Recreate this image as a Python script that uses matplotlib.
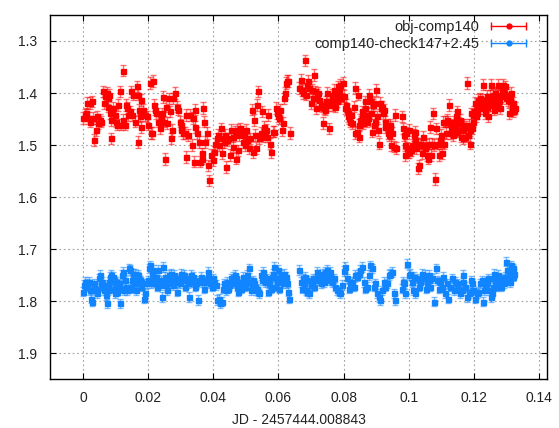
import matplotlib
matplotlib.use("Agg")
import matplotlib.pyplot as plt
from matplotlib.lines import Line2D
from matplotlib.legend_handler import HandlerLine2D, HandlerTuple

# obj-comp140
red_jd = [
    0.0000, 0.0005, 0.0010, 0.0012, 0.0015, 0.0020, 0.0021, 0.0026, 0.0031, 0.0034,
    0.0038, 0.0041, 0.0046, 0.0051, 0.0056, 0.0061, 0.0065, 0.0067, 0.0072, 0.0075,
    0.0077, 0.0079, 0.0082, 0.0085, 0.0087, 0.0089, 0.0092, 0.0097, 0.0102, 0.0105,
    0.0108, 0.0113, 0.0115, 0.0121, 0.0123, 0.0128, 0.0133, 0.0136, 0.0138, 0.0143,
    0.0148, 0.0151, 0.0154, 0.0159, 0.0164, 0.0167, 0.0169, 0.0172, 0.0174, 0.0177,
    0.0179, 0.0184, 0.0189, 0.0195, 0.0200, 0.0205, 0.0208, 0.0212, 0.0215, 0.0218,
    0.0222, 0.0225, 0.0230, 0.0236, 0.0239, 0.0243, 0.0246, 0.0249, 0.0251, 0.0256,
    0.0259, 0.0263, 0.0266, 0.0271, 0.0273, 0.0276, 0.0282, 0.0287, 0.0292, 0.0297,
    0.0300, 0.0302, 0.0307, 0.0312, 0.0315, 0.0317, 0.0323, 0.0328, 0.0333, 0.0338,
    0.0341, 0.0343, 0.0345, 0.0351, 0.0355, 0.0358, 0.0364, 0.0366, 0.0369, 0.0372,
    0.0374, 0.0379, 0.0385, 0.0388, 0.0392, 0.0398, 0.0402, 0.0405, 0.0410, 0.0415,
    0.0418, 0.0422, 0.0426, 0.0429, 0.0433, 0.0436, 0.0439, 0.0441, 0.0446, 0.0451,
    0.0454, 0.0459, 0.0461, 0.0467, 0.0470, 0.0472, 0.0477, 0.0480, 0.0482, 0.0487,
    0.0490, 0.0494, 0.0497, 0.0500, 0.0504, 0.0511, 0.0513, 0.0518, 0.0521, 0.0525,
    0.0528, 0.0531, 0.0533, 0.0538, 0.0541, 0.0545, 0.0548, 0.0552, 0.0556, 0.0559,
    0.0562, 0.0566, 0.0569, 0.0574, 0.0577, 0.0582, 0.0586, 0.0593, 0.0597, 0.0600,
    0.0603, 0.0605, 0.0610, 0.0613, 0.0617, 0.0620, 0.0623, 0.0627, 0.0630, 0.0635,
    0.0664, 0.0668, 0.0671, 0.0676, 0.0682, 0.0685, 0.0689, 0.0692, 0.0695, 0.0699,
    0.0702, 0.0705, 0.0709, 0.0712, 0.0715, 0.0719, 0.0723, 0.0726, 0.0730, 0.0733,
    0.0736, 0.0740, 0.0743, 0.0746, 0.0750, 0.0753, 0.0756, 0.0759, 0.0764, 0.0766,
    0.0769, 0.0772, 0.0774, 0.0779, 0.0782, 0.0784, 0.0787, 0.0790, 0.0793, 0.0797,
    0.0800, 0.0803, 0.0807, 0.0810, 0.0813, 0.0815, 0.0817, 0.0820, 0.0824, 0.0826,
    0.0831, 0.0834, 0.0836, 0.0841, 0.0844, 0.0846, 0.0848, 0.0851, 0.0854, 0.0856,
    0.0858, 0.0861, 0.0865, 0.0867, 0.0869, 0.0872, 0.0875, 0.0879, 0.0882, 0.0885,
    0.0887, 0.0889, 0.0892, 0.0895, 0.0898, 0.0901, 0.0903, 0.0906, 0.0910, 0.0913,
    0.0916, 0.0918, 0.0920, 0.0923, 0.0926, 0.0928, 0.0934, 0.0937, 0.0939, 0.0942,
    0.0944, 0.0947, 0.0949, 0.0954, 0.0957, 0.0961, 0.0980, 0.0982, 0.0985, 0.0988,
    0.0990, 0.0993, 0.0995, 0.0998, 0.1000, 0.1002, 0.1005, 0.1008, 0.1010, 0.1015,
    0.1018, 0.1020, 0.1022, 0.1025, 0.1028, 0.1033, 0.1036, 0.1039, 0.1041, 0.1044,
    0.1049, 0.1053, 0.1056, 0.1059, 0.1063, 0.1066, 0.1070, 0.1072, 0.1074, 0.1077,
    0.1080, 0.1084, 0.1089, 0.1092, 0.1095, 0.1099, 0.1102, 0.1105, 0.1109, 0.1112,
    0.1115, 0.1119, 0.1122, 0.1125, 0.1127, 0.1129, 0.1133, 0.1136, 0.1138, 0.1140,
    0.1143, 0.1146, 0.1148, 0.1150, 0.1153, 0.1156, 0.1158, 0.1160, 0.1163, 0.1166,
    0.1168, 0.1170, 0.1174, 0.1177, 0.1179, 0.1181, 0.1184, 0.1187, 0.1189, 0.1191,
    0.1194, 0.1197, 0.1199, 0.1201, 0.1204, 0.1207, 0.1209, 0.1211, 0.1214, 0.1218,
    0.1220, 0.1222, 0.1225, 0.1228, 0.1230, 0.1232, 0.1235, 0.1238, 0.1240, 0.1242,
    0.1245, 0.1248, 0.1250, 0.1252, 0.1255, 0.1259, 0.1261, 0.1263, 0.1266, 0.1269,
    0.1271, 0.1273, 0.1276, 0.1279, 0.1281, 0.1283, 0.1286, 0.1289, 0.1291, 0.1293,
    0.1296, 0.1299, 0.1301, 0.1304, 0.1307, 0.1310, 0.1312, 0.1314, 0.1317, 0.1320,
    0.1322, 0.1324, 0.1327,
]
red_mag = [
    1.448, 1.442, 1.439, 1.419, 1.448, 1.455, 1.419, 1.416, 1.448, 1.490,
    1.471, 1.445, 1.458, 1.452, 1.455, 1.397, 1.419, 1.406, 1.400, 1.426,
    1.410, 1.403, 1.439, 1.487, 1.452, 1.435, 1.429, 1.442, 1.455, 1.461,
    1.423, 1.397, 1.461, 1.357, 1.452, 1.461, 1.423, 1.429, 1.442, 1.435,
    1.397, 1.442, 1.403, 1.455, 1.387, 1.403, 1.494, 1.432, 1.445, 1.465,
    1.413, 1.432, 1.442, 1.445, 1.461, 1.381, 1.477, 1.477, 1.377, 1.423,
    1.432, 1.439, 1.455, 1.468, 1.448, 1.439, 1.408, 1.455, 1.527, 1.426,
    1.458, 1.410, 1.435, 1.487, 1.471, 1.410, 1.400, 1.426, 1.432, 1.455,
    1.471, 1.461, 1.477, 1.477, 1.442, 1.523, 1.481, 1.442, 1.500, 1.448,
    1.532, 1.432, 1.465, 1.477, 1.494, 1.532, 1.516, 1.526, 1.429, 1.455,
    1.494, 1.477, 1.539, 1.568, 1.519, 1.529, 1.513, 1.497, 1.487, 1.481,
    1.500, 1.468, 1.516, 1.487, 1.494, 1.481, 1.542, 1.490, 1.487, 1.519,
    1.471, 1.503, 1.484, 1.474, 1.526, 1.471, 1.510, 1.481, 1.468, 1.474,
    1.494, 1.481, 1.500, 1.471, 1.490, 1.506, 1.487, 1.432, 1.513, 1.452,
    1.481, 1.506, 1.423, 1.397, 1.487, 1.477, 1.435, 1.484, 1.465, 1.474,
    1.471, 1.484, 1.442, 1.497, 1.513, 1.474, 1.474, 1.429, 1.439, 1.445,
    1.448, 1.432, 1.471, 1.458, 1.410, 1.400, 1.381, 1.377, 1.377, 1.477,
    1.390, 1.374, 1.394, 1.400, 1.337, 1.403, 1.384, 1.377, 1.390, 1.419,
    1.394, 1.410, 1.365, 1.397, 1.429, 1.403, 1.400, 1.413, 1.423, 1.426,
    1.458, 1.429, 1.432, 1.416, 1.400, 1.423, 1.468, 1.416, 1.403, 1.423,
    1.413, 1.394, 1.426, 1.416, 1.403, 1.387, 1.394, 1.384, 1.410, 1.381,
    1.406, 1.429, 1.423, 1.432, 1.445, 1.439, 1.448, 1.455, 1.442, 1.458,
    1.426, 1.390, 1.477, 1.474, 1.403, 1.461, 1.484, 1.452, 1.455, 1.445,
    1.435, 1.458, 1.416, 1.429, 1.442, 1.455, 1.448, 1.403, 1.416, 1.439,
    1.474, 1.423, 1.419, 1.461, 1.455, 1.394, 1.445, 1.471, 1.497, 1.419,
    1.429, 1.426, 1.439, 1.432, 1.455, 1.465, 1.461, 1.477, 1.481, 1.465,
    1.461, 1.500, 1.477, 1.503, 1.442, 1.506, 1.445, 1.468, 1.481, 1.500,
    1.519, 1.477, 1.506, 1.513, 1.471, 1.513, 1.510, 1.510, 1.500, 1.481,
    1.474, 1.490, 1.506, 1.497, 1.545, 1.539, 1.497, 1.500, 1.516, 1.484,
    1.506, 1.500, 1.519, 1.526, 1.497, 1.465, 1.519, 1.497, 1.439, 1.500,
    1.565, 1.468, 1.497, 1.519, 1.490, 1.481, 1.516, 1.455, 1.497, 1.455,
    1.477, 1.452, 1.455, 1.423, 1.477, 1.465, 1.461, 1.481, 1.471, 1.455,
    1.468, 1.445, 1.474, 1.435, 1.458, 1.471, 1.452, 1.484, 1.461, 1.471,
    1.487, 1.461, 1.484, 1.465, 1.381, 1.481, 1.461, 1.497, 1.471, 1.439,
    1.468, 1.455, 1.442, 1.435, 1.419, 1.445, 1.426, 1.439, 1.413, 1.429,
    1.410, 1.423, 1.413, 1.384, 1.419, 1.429, 1.439, 1.413, 1.406, 1.426,
    1.445, 1.416, 1.406, 1.384, 1.423, 1.403, 1.432, 1.413, 1.400, 1.419,
    1.403, 1.423, 1.384, 1.416, 1.429, 1.406, 1.394, 1.397, 1.384, 1.400,
    1.387, 1.410, 1.403, 1.413, 1.439, 1.416, 1.410, 1.400, 1.426, 1.419,
    1.435, 1.432, 1.429,
]

# comp140-check147+2.45
blue_jd = [
    0.0000, 0.0003, 0.0007, 0.0010, 0.0013, 0.0017, 0.0020, 0.0024, 0.0026, 0.0031,
    0.0034, 0.0038, 0.0041, 0.0044, 0.0048, 0.0051, 0.0054, 0.0058, 0.0061, 0.0065,
    0.0069, 0.0072, 0.0075, 0.0077, 0.0079, 0.0082, 0.0085, 0.0087, 0.0092, 0.0095,
    0.0097, 0.0099, 0.0102, 0.0105, 0.0110, 0.0113, 0.0116, 0.0120, 0.0123, 0.0126,
    0.0128, 0.0133, 0.0136, 0.0140, 0.0143, 0.0146, 0.0148, 0.0151, 0.0154, 0.0157,
    0.0159, 0.0161, 0.0164, 0.0167, 0.0169, 0.0171, 0.0174, 0.0177, 0.0179, 0.0184,
    0.0187, 0.0189, 0.0195, 0.0198, 0.0202, 0.0205, 0.0208, 0.0212, 0.0215, 0.0218,
    0.0222, 0.0225, 0.0228, 0.0230, 0.0236, 0.0239, 0.0243, 0.0246, 0.0249, 0.0251,
    0.0253, 0.0256, 0.0259, 0.0263, 0.0266, 0.0269, 0.0271, 0.0273, 0.0276, 0.0280,
    0.0282, 0.0287, 0.0290, 0.0294, 0.0297, 0.0300, 0.0304, 0.0307, 0.0310, 0.0314,
    0.0317, 0.0321, 0.0325, 0.0328, 0.0331, 0.0335, 0.0338, 0.0341, 0.0343, 0.0348,
    0.0353, 0.0355, 0.0361, 0.0366, 0.0369, 0.0372, 0.0377, 0.0382, 0.0385, 0.0390,
    0.0395, 0.0398, 0.0402, 0.0408, 0.0412, 0.0416, 0.0420, 0.0426, 0.0429, 0.0433,
    0.0436, 0.0439, 0.0443, 0.0446, 0.0449, 0.0453, 0.0456, 0.0459, 0.0463, 0.0467,
    0.0470, 0.0474, 0.0477, 0.0480, 0.0484, 0.0487, 0.0490, 0.0494, 0.0497, 0.0500,
    0.0504, 0.0511, 0.0513, 0.0515, 0.0518, 0.0521, 0.0525, 0.0528, 0.0531, 0.0535,
    0.0538, 0.0541, 0.0545, 0.0548, 0.0552, 0.0556, 0.0559, 0.0564, 0.0569, 0.0572,
    0.0576, 0.0579, 0.0584, 0.0586, 0.0589, 0.0593, 0.0597, 0.0600, 0.0603, 0.0607,
    0.0610, 0.0613, 0.0617, 0.0620, 0.0623, 0.0627, 0.0630, 0.0633, 0.0664, 0.0668,
    0.0671, 0.0674, 0.0678, 0.0682, 0.0685, 0.0689, 0.0692, 0.0695, 0.0699, 0.0702,
    0.0705, 0.0709, 0.0712, 0.0717, 0.0719, 0.0723, 0.0726, 0.0730, 0.0733, 0.0736,
    0.0740, 0.0743, 0.0746, 0.0750, 0.0753, 0.0756, 0.0759, 0.0764, 0.0770, 0.0775,
    0.0780, 0.0785, 0.0790, 0.0795, 0.0800, 0.0805, 0.0811, 0.0816, 0.0821, 0.0826,
    0.0831, 0.0836, 0.0841, 0.0846, 0.0852, 0.0857, 0.0862, 0.0867, 0.0872, 0.0877,
    0.0882, 0.0887, 0.0892, 0.0898, 0.0903, 0.0908, 0.0913, 0.0918, 0.0923, 0.0928,
    0.0933, 0.0939, 0.0944, 0.0949, 0.0954, 0.0959, 0.0980, 0.0982, 0.0985, 0.0990,
    0.0995, 0.1000, 0.1005, 0.1010, 0.1012, 0.1015, 0.1020, 0.1026, 0.1031, 0.1033,
    0.1036, 0.1041, 0.1046, 0.1051, 0.1053, 0.1056, 0.1061, 0.1063, 0.1067, 0.1072,
    0.1077, 0.1084, 0.1086, 0.1092, 0.1097, 0.1102, 0.1107, 0.1112, 0.1117, 0.1122,
    0.1127, 0.1133, 0.1138, 0.1143, 0.1148, 0.1153, 0.1158, 0.1163, 0.1166, 0.1168,
    0.1174, 0.1179, 0.1184, 0.1187, 0.1191, 0.1194, 0.1199, 0.1204, 0.1209, 0.1214,
    0.1220, 0.1225, 0.1228, 0.1230, 0.1235, 0.1238, 0.1242, 0.1245, 0.1248, 0.1252,
    0.1255, 0.1259, 0.1261, 0.1263, 0.1266, 0.1269, 0.1271, 0.1276, 0.1279, 0.1283,
    0.1286, 0.1289, 0.1293, 0.1296, 0.1299, 0.1301, 0.1304, 0.1307, 0.1310, 0.1312,
    0.1314, 0.1317, 0.1320, 0.1322, 0.1324,
]
blue_mag = [
    1.782, 1.769, 1.763, 1.772, 1.766, 1.763, 1.779, 1.795, 1.801, 1.776,
    1.766, 1.779, 1.776, 1.785, 1.756, 1.750, 1.766, 1.763, 1.772, 1.779,
    1.788, 1.804, 1.779, 1.769, 1.763, 1.753, 1.776, 1.750, 1.753, 1.760,
    1.772, 1.785, 1.763, 1.782, 1.766, 1.804, 1.776, 1.750, 1.744, 1.779,
    1.760, 1.772, 1.779, 1.737, 1.740, 1.776, 1.772, 1.760, 1.747, 1.763,
    1.747, 1.779, 1.766, 1.753, 1.750, 1.766, 1.760, 1.763, 1.772, 1.766,
    1.795, 1.785, 1.766, 1.760, 1.737, 1.731, 1.766, 1.747, 1.740, 1.760,
    1.763, 1.753, 1.772, 1.740, 1.769, 1.760, 1.792, 1.734, 1.766, 1.753,
    1.769, 1.760, 1.779, 1.750, 1.760, 1.747, 1.766, 1.756, 1.769, 1.750,
    1.763, 1.782, 1.760, 1.756, 1.766, 1.747, 1.760, 1.753, 1.750, 1.772,
    1.756, 1.766, 1.792, 1.760, 1.750, 1.763, 1.753, 1.760, 1.772, 1.766,
    1.798, 1.760, 1.753, 1.763, 1.760, 1.776, 1.763, 1.744, 1.753, 1.766,
    1.772, 1.756, 1.763, 1.769, 1.798, 1.795, 1.804, 1.801, 1.776, 1.766,
    1.772, 1.779, 1.763, 1.776, 1.769, 1.756, 1.766, 1.753, 1.763, 1.750,
    1.756, 1.772, 1.782, 1.766, 1.776, 1.763, 1.753, 1.769, 1.772, 1.760,
    1.750, 1.737, 1.763, 1.779, 1.769, 1.760, 1.766, 1.772, 1.779, 1.776,
    1.782, 1.785, 1.750, 1.760, 1.744, 1.753, 1.763, 1.756, 1.782, 1.766,
    1.776, 1.753, 1.747, 1.734, 1.772, 1.756, 1.763, 1.740, 1.776, 1.750,
    1.760, 1.766, 1.747, 1.756, 1.753, 1.766, 1.782, 1.795, 1.740, 1.763,
    1.776, 1.756, 1.766, 1.753, 1.779, 1.782, 1.760, 1.785, 1.769, 1.766,
    1.756, 1.772, 1.760, 1.750, 1.744, 1.760, 1.753, 1.766, 1.747, 1.756,
    1.763, 1.744, 1.750, 1.740, 1.753, 1.760, 1.744, 1.763, 1.756, 1.772,
    1.779, 1.782, 1.785, 1.769, 1.742, 1.734, 1.756, 1.776, 1.766, 1.763,
    1.772, 1.750, 1.753, 1.747, 1.740, 1.734, 1.763, 1.776, 1.772, 1.750,
    1.731, 1.737, 1.772, 1.766, 1.785, 1.792, 1.798, 1.779, 1.763, 1.772,
    1.766, 1.750, 1.747, 1.744, 1.785, 1.798, 1.776, 1.763, 1.766, 1.785,
    1.728, 1.750, 1.747, 1.763, 1.779, 1.753, 1.785, 1.756, 1.772, 1.760,
    1.763, 1.747, 1.756, 1.750, 1.776, 1.766, 1.760, 1.750, 1.772, 1.756,
    1.801, 1.737, 1.760, 1.776, 1.763, 1.772, 1.753, 1.785, 1.766, 1.795,
    1.772, 1.756, 1.779, 1.763, 1.766, 1.776, 1.785, 1.779, 1.750, 1.763,
    1.772, 1.792, 1.785, 1.782, 1.760, 1.766, 1.779, 1.795, 1.785, 1.782,
    1.766, 1.760, 1.801, 1.779, 1.772, 1.766, 1.763, 1.756, 1.779, 1.792,
    1.785, 1.772, 1.756, 1.747, 1.763, 1.772, 1.766, 1.750, 1.760, 1.772,
    1.756, 1.760, 1.766, 1.753, 1.724, 1.740, 1.756, 1.747, 1.763, 1.744,
    1.731, 1.740, 1.737, 1.753, 1.747,
]

red_err = 0.011
blue_err = 0.009

labels = ["obj-comp140", "comp140-check147+2.45"]
x_ticks = [0, 0.02, 0.04, 0.06, 0.08, 0.1, 0.12, 0.14]
x_tick_labels = ["0", "0.02", "0.04", "0.06", "0.08", "0.1", "0.12", "0.14"]
y_ticks = [1.3, 1.4, 1.5, 1.6, 1.7, 1.8, 1.9]
x_label = "JD - 2457444.008843"


def main():
    plt.rcParams['font.family'] = ['Liberation Sans', 'DejaVu Sans']
    plt.rcParams['font.size'] = 10
    plt.rcParams['text.color'] = '#222222'

    red = '#ff0000'
    blue = '#1085ff'

    fig = plt.figure(figsize=(5.59, 4.28), dpi=100)
    ax = fig.add_axes([0.0894, 0.114, 0.8891, 0.851])

    ax.errorbar(red_jd, red_mag, yerr=red_err, fmt='s', ms=3.6, color=red,
                ecolor=(1.0, 0.0, 0.0, 0.55), elinewidth=1.0, capsize=2.5,
                capthick=1.0, zorder=3)
    ax.errorbar(blue_jd, blue_mag, yerr=blue_err, fmt='s', ms=3.6, color=blue,
                ecolor=(0.063, 0.52, 1.0, 0.55), elinewidth=1.0, capsize=2.5,
                capthick=1.0, zorder=3)

    ax.set_xlim(-0.0102, 0.1425)
    ax.set_ylim(1.95, 1.25)
    ax.set_xticks(x_ticks)
    ax.set_xticklabels(x_tick_labels)
    ax.set_yticks(y_ticks)
    ax.set_xlabel(x_label, labelpad=6, color='#222222')

    ax.grid(True, color='#a0a0a0', linestyle=(0, (1.5, 2.5)), linewidth=0.8)
    ax.tick_params(direction='in', length=4, width=0.8, top=True, right=True,
                   colors='black', labelcolor='#222222')
    ax.tick_params(axis='x', pad=8.5)
    ax.tick_params(axis='y', pad=9)
    for sp in ax.spines.values():
        sp.set_linewidth(1.0)

    # legend sample: line with end caps and a dot, gnuplot style
    cap_r = Line2D([], [], color=red, lw=1.0, marker='|', ms=6, mew=1.0)
    dot_r = Line2D([], [], color=red, ls='none', marker='o', ms=3.5)
    cap_b = Line2D([], [], color=blue, lw=1.0, marker='|', ms=6, mew=1.0)
    dot_b = Line2D([], [], color=blue, ls='none', marker='o', ms=3.5)
    hmap = {cap_r: HandlerLine2D(numpoints=2), cap_b: HandlerLine2D(numpoints=2),
            dot_r: HandlerLine2D(numpoints=1), dot_b: HandlerLine2D(numpoints=1),
            tuple: HandlerTuple(ndivide=1)}
    ax.legend([(cap_r, dot_r), (cap_b, dot_b)], labels, handler_map=hmap,
              loc='upper right', bbox_to_anchor=(0.993, 1.022), frameon=False,
              markerfirst=False, handlelength=3.0, handletextpad=0.5,
              labelspacing=0.2, fontsize=10.5)

    fig.savefig('out.png', dpi=100)


if __name__ == '__main__':
    main()
